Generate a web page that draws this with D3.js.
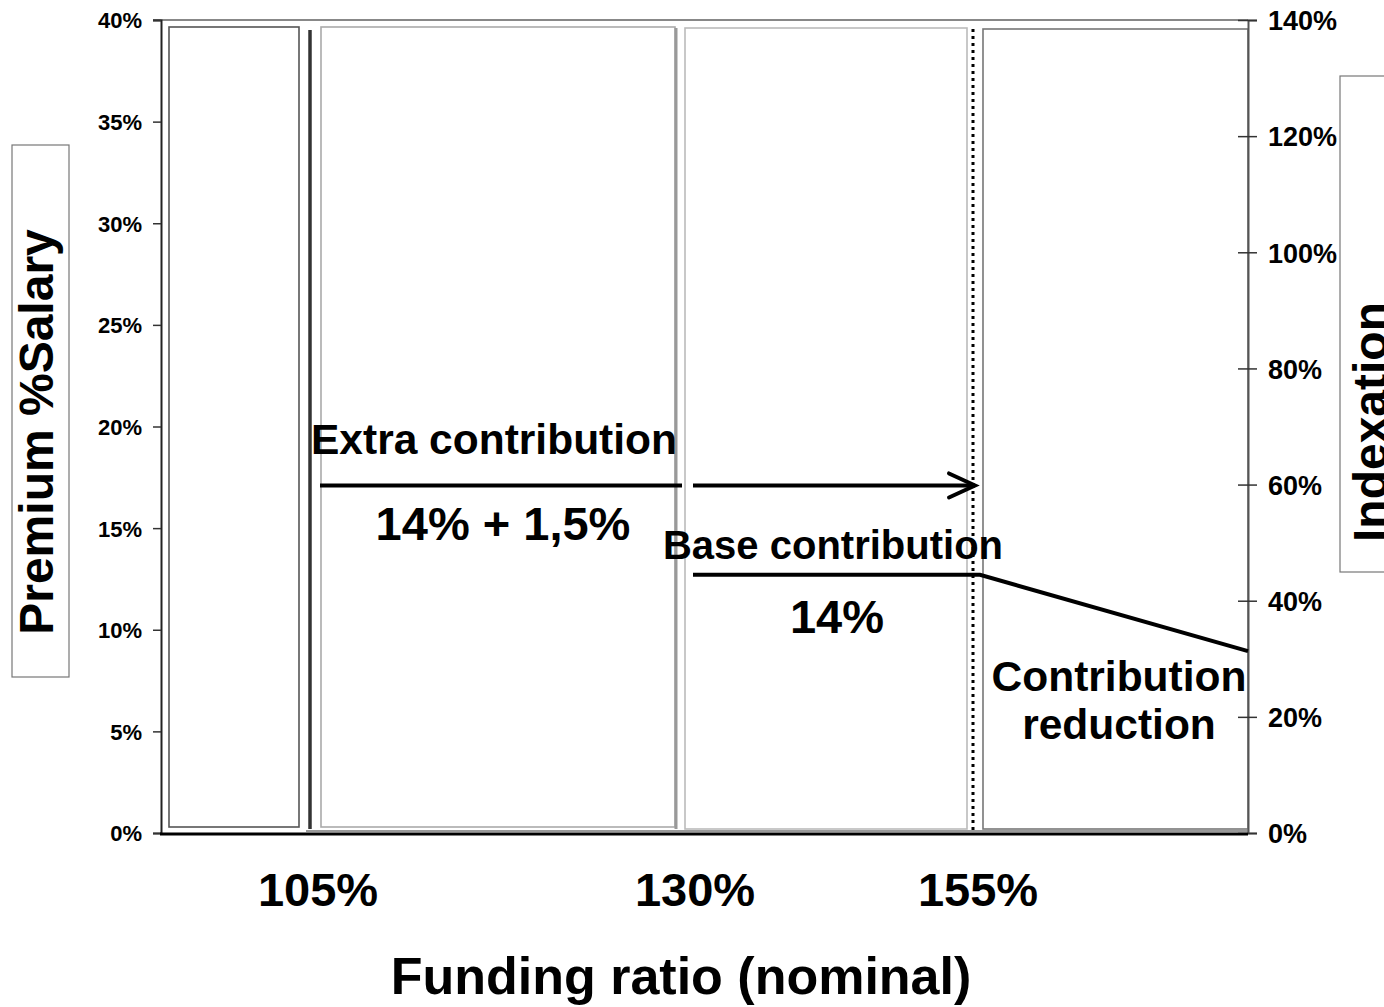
<!DOCTYPE html>
<html>
<head>
<meta charset="utf-8">
<script src="https://cdn.jsdelivr.net/npm/d3@7"></script>
<style>
  html, body { margin: 0; padding: 0; background: #fff; }
  svg { display: block; }
  text { font-family: Arial, "Liberation Sans", sans-serif; font-weight: bold; fill: #000; }
</style>
</head>
<body>
<svg id="chart" width="1384" height="1007"></svg>
<script>
// Funding-ratio thresholds of the contribution policy
const thresholds = [105, 130, 155];
const thresholdLabels = ["105%", "130%", "155%"];

// Left axis: premium as share of salary
const premiumTicks = [0, 0.05, 0.10, 0.15, 0.20, 0.25, 0.30, 0.35, 0.40];
// Right axis: indexation
const indexTicks = [0, 0.2, 0.4, 0.6, 0.8, 1.0, 1.2, 1.4];

// Policy zones along the funding ratio
const zones = [
  { name: "deficit",  from: 95,  to: 105, stroke: "#555" },
  { name: "recovery", from: 105, to: 130, stroke: "#aaa" },
  { name: "reserve",  from: 130, to: 155, stroke: "#bbb" },
  { name: "surplus",  from: 155, to: 180, stroke: "#777" }
];

// Premium levels (share of salary) of the contribution lines
const extraLevel = 0.171;
const baseLevel = 0.127;
const reducedLevel = 0.0895;
const fundingEnd = 180;

const svg = d3.select("#chart");
const plot = { left: 161, right: 1248, top: 20, bottom: 833 };

// Piecewise funding-ratio scale (zones are drawn schematically, not to scale)
const x = d3.scaleLinear()
  .domain([95, 105, 130, 155, 180])
  .range([161, 310, 680, 973, 1248]);
const yL = d3.scaleLinear().domain([0, 0.4]).range([plot.bottom, plot.top]);
const yR = d3.scaleLinear().domain([0, 1.4]).range([plot.bottom, plot.top]);

// Inner padding of each zone box against its thresholds
const padLeft = { 95: 8, 105: 11, 130: 5, 155: 10 };
const padRight = { 105: 11, 130: 5, 155: 6, 180: 0 };
const boxTop = [27, 27, 28, 29];

svg.append("g").selectAll("rect")
  .data(zones)
  .join("rect")
  .attr("x", d => x(d.from) + padLeft[d.from])
  .attr("y", (d, i) => boxTop[i])
  .attr("width", d => (x(d.to) - padRight[d.to]) - (x(d.from) + padLeft[d.from]))
  .attr("height", (d, i) => 827 - boxTop[i] + (i > 1 ? 2 : 0))
  .attr("fill", "none")
  .attr("stroke", d => d.stroke)
  .attr("stroke-width", 1.6);

// Shadow edge of the recovery zone
svg.append("line")
  .attr("x1", x(130) - 4).attr("x2", x(130) - 4)
  .attr("y1", 28).attr("y2", 829)
  .attr("stroke", "#999").attr("stroke-width", 3);

// 105% threshold: solid dark bar
svg.append("line")
  .attr("x1", x(105)).attr("x2", x(105))
  .attr("y1", 30).attr("y2", 829)
  .attr("stroke", "#333").attr("stroke-width", 3.5);

// 155% threshold: dotted line
svg.append("line")
  .attr("x1", x(155)).attr("x2", x(155))
  .attr("y1", 29).attr("y2", 831)
  .attr("stroke", "#000").attr("stroke-width", 3)
  .attr("stroke-dasharray", "3,4");

// Bottom shadow line
svg.append("line")
  .attr("x1", x(105) - 4).attr("x2", plot.right)
  .attr("y1", 831).attr("y2", 831)
  .attr("stroke", "#999").attr("stroke-width", 2);

// Top frame line
svg.append("line")
  .attr("x1", 153).attr("x2", plot.right)
  .attr("y1", plot.top).attr("y2", plot.top)
  .attr("stroke", "#888").attr("stroke-width", 2);

// Left axis
const axL = svg.append("g")
  .attr("transform", `translate(${plot.left},0)`)
  .call(d3.axisLeft(yL).tickValues(premiumTicks).tickFormat(d3.format(".0%")).tickSize(8).tickPadding(11));
axL.select(".domain").attr("stroke", "#222").attr("stroke-width", 2);
axL.selectAll(".tick line").attr("stroke", "#333").attr("stroke-width", 1.5);
axL.selectAll(".tick text").style("font-size", "22px").attr("dy", "0.36em");

// Right axis (ticks cross the axis line)
const axR = svg.append("g")
  .attr("transform", `translate(${plot.right},0)`)
  .call(d3.axisRight(yR).tickValues(indexTicks).tickFormat(d3.format(".0%")).tickSize(9).tickPadding(11));
axR.select(".domain").attr("stroke", "#555").attr("stroke-width", 2);
axR.selectAll(".tick line").attr("x1", -10).attr("stroke", "#333").attr("stroke-width", 1.5);
axR.selectAll(".tick text").style("font-size", "27px").attr("dy", "0.36em");

// Bottom axis line
svg.append("line")
  .attr("x1", plot.left - 1).attr("x2", plot.right)
  .attr("y1", 834).attr("y2", 834)
  .attr("stroke", "#000").attr("stroke-width", 3);

// Threshold labels
svg.append("g").selectAll("text")
  .data(thresholds)
  .join("text")
  .attr("x", (d, i) => x(d) + [8, 15, 5][i])
  .attr("y", 890)
  .attr("dy", "0.35em")
  .attr("text-anchor", "middle")
  .style("font-size", "47px")
  .text((d, i) => thresholdLabels[i]);

// Axis titles
svg.append("text")
  .attr("x", 681).attr("y", 994)
  .attr("text-anchor", "middle")
  .style("font-size", "52px")
  .text("Funding ratio (nominal)");

svg.append("rect")
  .attr("x", 12).attr("y", 145).attr("width", 57).attr("height", 532)
  .attr("fill", "none").attr("stroke", "#777").attr("stroke-width", 1.2);
svg.append("text")
  .attr("transform", "translate(53,432) rotate(-90)")
  .attr("text-anchor", "middle")
  .style("font-size", "48px")
  .text("Premium %Salary");

svg.append("rect")
  .attr("x", 1340).attr("y", 76).attr("width", 60).attr("height", 496)
  .attr("fill", "none").attr("stroke", "#777").attr("stroke-width", 1.2);
svg.append("text")
  .attr("transform", "translate(1387,422) rotate(-90)")
  .attr("text-anchor", "middle")
  .style("font-size", "48px")
  .text("Indexation");

// Contribution lines
const lineG = svg.append("g").attr("stroke", "#000").attr("stroke-width", 4).attr("fill", "none");
lineG.append("line")
  .attr("x1", x(105) + 10).attr("x2", x(130) + 2)
  .attr("y1", yL(extraLevel)).attr("y2", yL(extraLevel));
lineG.append("line")
  .attr("x1", x(130) + 13).attr("x2", x(155) + 2)
  .attr("y1", yL(extraLevel)).attr("y2", yL(extraLevel));
// Arrow head
lineG.append("path")
  .attr("d", d3.line()([
    [x(155) - 24, yL(extraLevel) - 12],
    [x(155) + 2, yL(extraLevel)],
    [x(155) - 24, yL(extraLevel) + 12]
  ]))
  .attr("stroke-linecap", "round");
// Base contribution, then reduction beyond 155%
lineG.append("path")
  .attr("d", d3.line()([
    [x(130) + 13, yL(baseLevel)],
    [x(155) + 7, yL(baseLevel)],
    [x(fundingEnd), yL(reducedLevel)]
  ]));

// Annotations
const notes = [
  { text: "Extra contribution", x: 494, y: 439, size: 42.5 },
  { text: "14% + 1,5%", x: 503, y: 524, size: 47 },
  { text: "Base contribution", x: 833, y: 545, size: 40 },
  { text: "14%", x: 837, y: 617, size: 47 },
  { text: "Contribution", x: 1119, y: 676, size: 42.5 },
  { text: "reduction", x: 1119, y: 724, size: 42.5 }
];
svg.append("g").selectAll("text")
  .data(notes)
  .join("text")
  .attr("x", d => d.x).attr("y", d => d.y).attr("dy", "0.35em")
  .attr("text-anchor", "middle")
  .style("font-size", d => d.size + "px")
  .text(d => d.text);
</script>
</body>
</html>
